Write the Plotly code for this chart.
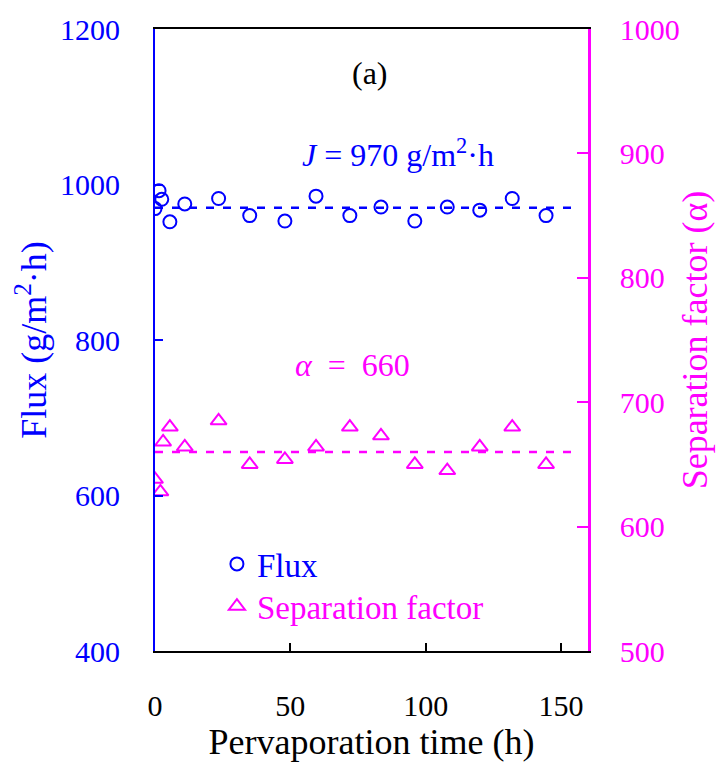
import plotly.graph_objects as go

# Pervaporation run: flux and separation factor versus time
flux_time = [0, 1.5, 2.5, 5.5, 11, 23.5, 35, 48, 59.5, 72, 83.5, 96, 108, 120, 132, 144.5]
flux_values = [969, 992, 981, 952, 975, 982, 960, 953, 985, 960, 971, 953, 971, 967, 982, 960]

sep_time = [0, 2, 3, 5.5, 11, 23.5, 35, 48, 59.5, 72, 83.5, 96, 108, 120, 132, 144.5]
sep_values = [638, 628, 668, 680, 664, 685, 650, 654, 664, 680, 673, 650, 645, 664, 680, 650]

flux_mean = 970
sep_mean = 660
mean_line_span = [0, 155]

x_ticks = [0, 50, 100, 150]

BLUE = "#0000FF"
MAGENTA = "#FF00FF"
FONT = "Liberation Serif"

fig = go.Figure()

# mean lines
fig.add_trace(go.Scatter(
    x=mean_line_span, y=[flux_mean] * 2, mode="lines",
    line=dict(color=BLUE, width=2.5, dash="8px,9px"),
    showlegend=False, hoverinfo="skip", yaxis="y"))
fig.add_trace(go.Scatter(
    x=mean_line_span, y=[sep_mean] * 2, mode="lines",
    line=dict(color=MAGENTA, width=2.5, dash="8px,9px"),
    showlegend=False, hoverinfo="skip", yaxis="y2"))

# measured points
fig.add_trace(go.Scatter(
    x=flux_time, y=flux_values, mode="markers", name="Flux",
    marker=dict(symbol="circle-open", size=13, color=BLUE, line=dict(width=2)),
    yaxis="y", legend="legend"))
fig.add_trace(go.Scatter(
    x=sep_time, y=sep_values, mode="markers", name="Separation factor",
    marker=dict(symbol="triangle-up-open", size=14, color=MAGENTA, line=dict(width=2)),
    yaxis="y2", legend="legend2"))

fig.update_layout(
    width=721, height=764,
    margin=dict(l=155, r=133, t=29, b=113, autoexpand=False),
    paper_bgcolor="white", plot_bgcolor="white",
    font=dict(family=FONT, size=30, color="black"),
    xaxis=dict(
        range=[0, 160], tickvals=x_ticks, ticks="inside", ticklen=8, tickwidth=2,
        tickcolor="black", showline=True, linecolor="black", linewidth=2,
        mirror=True, showgrid=False, zeroline=False, automargin=False,
        tickfont=dict(family=FONT, size=30, color="black"),
        ticklabelstandoff=27,
        title=dict(text="Pervaporation time (h)", standoff=6,
                   font=dict(family=FONT, size=36, color="black")),
    ),
    yaxis=dict(
        range=[400, 1200], dtick=200, ticks="inside", ticklen=8, tickwidth=2,
        tickcolor=BLUE, showline=True, linecolor=BLUE, linewidth=2,
        showgrid=False, zeroline=False, automargin=False,
        tickfont=dict(family=FONT, size=30, color=BLUE),
        ticklabelstandoff=27,
        title=dict(text="Flux (g/m<sup>2</sup>·h)", standoff=2,
                   font=dict(family=FONT, size=36, color=BLUE)),
    ),
    yaxis2=dict(
        range=[500, 1000], dtick=100, overlaying="y", side="right",
        ticks="inside", ticklen=11, tickwidth=2,
        tickcolor=MAGENTA, showline=True, linecolor=MAGENTA, linewidth=2.5,
        showgrid=False, zeroline=False, automargin=False,
        tickfont=dict(family=FONT, size=30, color=MAGENTA),
        ticklabelstandoff=23,
        title=dict(text="Separation factor (α)", standoff=4,
                   font=dict(family=FONT, size=36, color=MAGENTA)),
    ),
    legend=dict(
        x=0.143, y=0.185, xanchor="left", yanchor="top",
        bgcolor="rgba(0,0,0,0)", borderwidth=0,
        font=dict(family=FONT, size=33, color=BLUE),
    ),
    legend2=dict(
        x=0.143, y=0.117, xanchor="left", yanchor="top",
        bgcolor="rgba(0,0,0,0)", borderwidth=0,
        font=dict(family=FONT, size=33, color=MAGENTA),
    ),
    annotations=[
        dict(text="(a)", x=0.497, y=0.929, xref="paper", yref="paper",
             xanchor="center", yanchor="middle", showarrow=False,
             font=dict(family=FONT, size=32, color="black")),
        dict(text="<i>J</i> = 970 g/m<sup>2</sup>·h", x=0.561, y=0.80,
             xref="paper", yref="paper", xanchor="center", yanchor="middle",
             showarrow=False, font=dict(family=FONT, size=32, color=BLUE)),
        dict(text="<i>α</i>  =  660", x=0.455, y=0.46, xref="paper", yref="paper",
             xanchor="center", yanchor="middle", showarrow=False,
             font=dict(family=FONT, size=32, color=MAGENTA)),
    ],
)

fig.write_html("out.html")
